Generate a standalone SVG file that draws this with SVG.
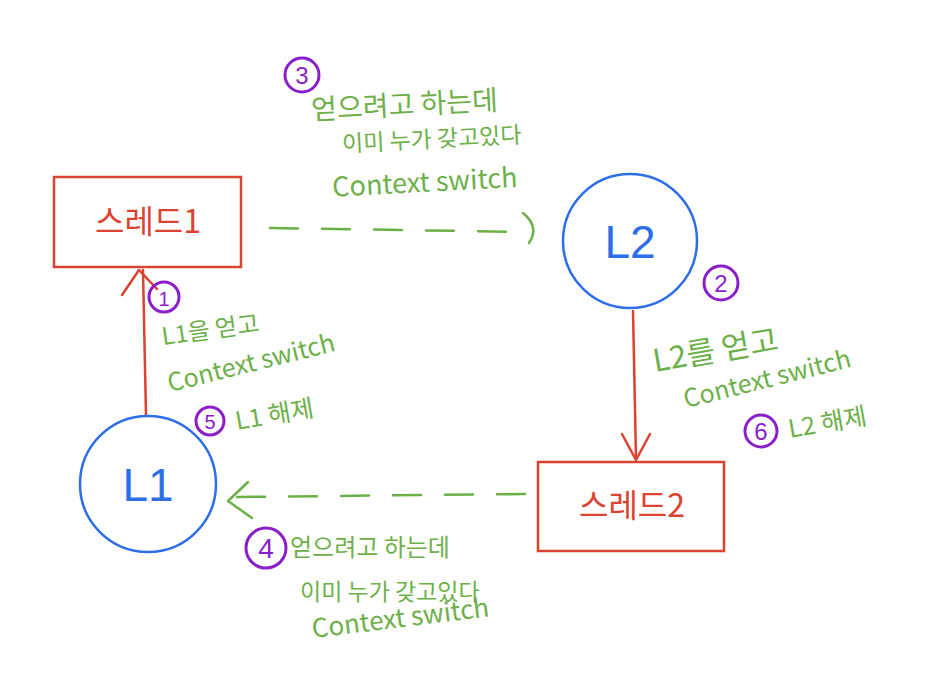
<svg xmlns="http://www.w3.org/2000/svg" width="935" height="679" viewBox="0 0 935 679">
<style>
.box{fill:none;stroke:#d9432f;stroke-width:2.5}
.circ{fill:none;stroke:#2e6ee6;stroke-width:2.5}
.red{fill:none;stroke:#d9432f;stroke-width:2.5;stroke-linecap:round;stroke-linejoin:round}
.dash{fill:none;stroke:#6db04a;stroke-width:2.5;stroke-linecap:round;stroke-dasharray:28 24}
.gline{fill:none;stroke:#6db04a;stroke-width:2.5;stroke-linecap:round;stroke-linejoin:round}
.num{fill:none;stroke:#8a1fc9;stroke-width:3}
.numt{font-family:"Liberation Sans",sans-serif;fill:#8a1fc9;font-size:24px;text-anchor:middle}
.rt{font-family:"Noto Sans CJK KR",sans-serif;fill:#d9432f;font-size:32px;text-anchor:middle}
.bt{font-family:"Liberation Sans",sans-serif;fill:#2e6ee6;font-size:46px;text-anchor:middle}
.gt{font-family:"Noto Sans CJK KR",sans-serif;fill:#6db04a;font-size:22px}
</style>
<rect width="935" height="679" fill="#ffffff"/>
<g id="connectors">
  <path class="dash" d="M270,228 L528,232"/>
  <path class="gline" d="M523,213 Q540,227 529,243"/>
  <path class="red" d="M633,311 L636,458"/>
  <path class="red" d="M622,434 L636,460 L650,434"/>
  <path class="red" d="M146,416 L143,270"/>
  <path class="red" d="M122,295 L139,270 L157,289"/>
  <path class="dash" d="M525,494 L233,497"/>
  <path class="gline" d="M248,482 L228,501 L252,518"/>
</g>
<g id="thread1">
  <rect class="box" x="54" y="177" width="187" height="90"/>
  <text class="rt" x="148" y="233">스레드1</text>
</g>
<g id="thread2">
  <rect class="box" x="538" y="462" width="186" height="89"/>
  <text class="rt" x="632" y="517">스레드2</text>
</g>
<g id="L2">
  <circle class="circ" cx="630" cy="241" r="67"/>
  <text class="bt" x="630" y="258">L2</text>
</g>
<g id="L1">
  <circle class="circ" cx="148" cy="484" r="68"/>
  <text class="bt" x="148" y="501">L1</text>
</g>
<g id="note3">
  <circle class="num" cx="302" cy="75" r="17"/>
  <text class="numt" x="302" y="84">3</text>
  <g transform="rotate(-3 420 140)">
    <text class="gt" x="313" y="114" style="font-size:28px">얻으려고 하는데</text>
    <text class="gt" x="342" y="148" style="font-size:23px">이미 누가 갖고있다</text>
    <text class="gt" x="330" y="192" style="font-size:27px">Context switch</text>
  </g>
</g>
<g id="note1">
  <circle class="num" cx="164" cy="297" r="15"/>
  <text class="numt" x="164" y="306" style="font-size:20px">1</text>
  <text class="gt" x="163" y="345" style="font-size:24px" transform="rotate(-8 163 345)">L1을 얻고</text>
  <text class="gt" x="170" y="392" style="font-size:25px" transform="rotate(-14 170 392)">Context switch</text>
  <circle class="num" cx="210" cy="421" r="14"/>
  <text class="numt" x="210" y="429" style="font-size:20px">5</text>
  <text class="gt" x="237" y="430" style="font-size:25px" transform="rotate(-10 237 430)">L1 해제</text>
</g>
<g id="note2">
  <circle class="num" cx="721" cy="283" r="17"/>
  <text class="numt" x="721" y="292">2</text>
  <text class="gt" x="655" y="372" style="font-size:31px" transform="rotate(-10 655 372)">L2를 얻고</text>
  <text class="gt" x="686" y="408" style="font-size:25px" transform="rotate(-14 686 408)">Context switch</text>
  <circle class="num" cx="761" cy="431" r="16"/>
  <text class="numt" x="761" y="440">6</text>
  <text class="gt" x="790" y="438" style="font-size:25px" transform="rotate(-10 790 438)">L2 해제</text>
</g>
<g id="note4">
  <circle class="num" cx="266" cy="548" r="20"/>
  <text class="numt" x="266" y="558" style="font-size:28px">4</text>
  <text class="gt" x="290" y="556" style="font-size:24px">얻으려고 하는데</text>
  <text class="gt" x="300" y="600" style="font-size:23px">이미 누가 갖고있다</text>
  <text class="gt" x="313" y="638" style="font-size:26px" transform="rotate(-7 313 638)">Context switch</text>
</g>
</svg>
